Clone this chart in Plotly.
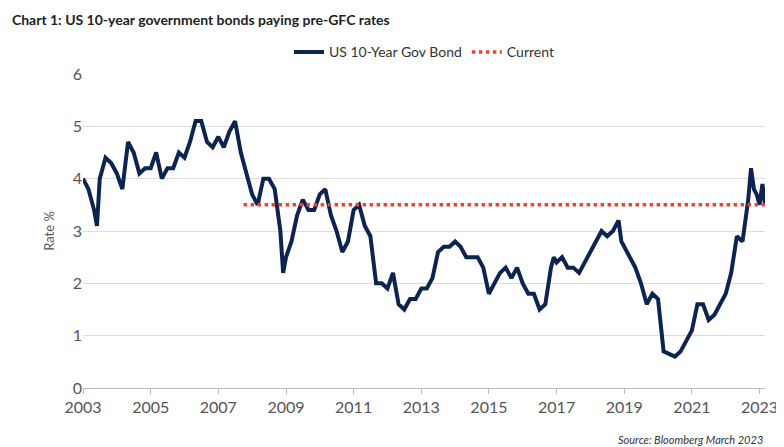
import plotly.graph_objects as go

dates = [
    "2003-01", "2003-03", "2003-05", "2003-06", "2003-07", "2003-09", "2003-11",
    "2004-01", "2004-03", "2004-05", "2004-07", "2004-09", "2004-11",
    "2005-01", "2005-03", "2005-05", "2005-07", "2005-09", "2005-11",
    "2006-01", "2006-03", "2006-05", "2006-07", "2006-09", "2006-11",
    "2007-01", "2007-03", "2007-05", "2007-07", "2007-09", "2007-11",
    "2008-01", "2008-03", "2008-05", "2008-07", "2008-09", "2008-11", "2008-12",
    "2009-01", "2009-03", "2009-05", "2009-07", "2009-09", "2009-11",
    "2010-01", "2010-03", "2010-05", "2010-07", "2010-09", "2010-11",
    "2011-01", "2011-03", "2011-05", "2011-07", "2011-09", "2011-11",
    "2012-01", "2012-03", "2012-05", "2012-07", "2012-09", "2012-11",
    "2013-01", "2013-03", "2013-05", "2013-07", "2013-09", "2013-11",
    "2014-01", "2014-03", "2014-05", "2014-07", "2014-09", "2014-11",
    "2015-01", "2015-03", "2015-05", "2015-07", "2015-09", "2015-11",
    "2016-01", "2016-03", "2016-05", "2016-07", "2016-09", "2016-11", "2016-12",
    "2017-01", "2017-03", "2017-05", "2017-07", "2017-09", "2017-11",
    "2018-01", "2018-03", "2018-05", "2018-07", "2018-09", "2018-11", "2018-12",
    "2019-01", "2019-03", "2019-05", "2019-07", "2019-09", "2019-11",
    "2020-01", "2020-03", "2020-05", "2020-07", "2020-09", "2020-11",
    "2021-01", "2021-03", "2021-05", "2021-07", "2021-09", "2021-11",
    "2022-01", "2022-03", "2022-05", "2022-07", "2022-09", "2022-10", "2022-11", "2022-12",
    "2023-01", "2023-02", "2023-03",
]
rates = [
    4.0, 3.8, 3.4, 3.1, 4.0, 4.4, 4.3,
    4.1, 3.8, 4.7, 4.5, 4.1, 4.2,
    4.2, 4.5, 4.0, 4.2, 4.2, 4.5,
    4.4, 4.7, 5.1, 5.1, 4.7, 4.6,
    4.8, 4.6, 4.9, 5.1, 4.5, 4.1,
    3.7, 3.5, 4.0, 4.0, 3.8, 3.0, 2.2,
    2.5, 2.8, 3.3, 3.6, 3.4, 3.4,
    3.7, 3.8, 3.3, 3.0, 2.6, 2.8,
    3.4, 3.5, 3.1, 2.9, 2.0, 2.0,
    1.9, 2.2, 1.6, 1.5, 1.7, 1.7,
    1.9, 1.9, 2.1, 2.6, 2.7, 2.7,
    2.8, 2.7, 2.5, 2.5, 2.5, 2.3,
    1.8, 2.0, 2.2, 2.3, 2.1, 2.3,
    2.0, 1.8, 1.8, 1.5, 1.6, 2.3, 2.5,
    2.4, 2.5, 2.3, 2.3, 2.2, 2.4,
    2.6, 2.8, 3.0, 2.9, 3.0, 3.2, 2.8,
    2.7, 2.5, 2.3, 2.0, 1.6, 1.8,
    1.7, 0.7, 0.65, 0.6, 0.7, 0.9,
    1.1, 1.6, 1.6, 1.3, 1.4, 1.6,
    1.8, 2.2, 2.9, 2.8, 3.6, 4.2, 3.8, 3.7,
    3.5, 3.9, 3.5,
]
current_dates = ["2007-10", "2023-03-01"]
current = [3.5, 3.5]

fig = go.Figure()
fig.add_trace(go.Scatter(x=dates, y=rates, mode="lines", name="US 10-Year Gov Bond",
                         line=dict(color="#0d2451", width=4)))
fig.add_trace(go.Scatter(x=current_dates, y=current, mode="lines", name="Current",
                         line=dict(color="#ef4136", width=3.5, dash="dot")))
fig.update_layout(
    width=784, height=447, plot_bgcolor="white", paper_bgcolor="white",
    font=dict(family="Lato", color="#555", size=16),
    title=dict(text="<b>Chart 1: US 10-year government bonds paying pre-GFC rates</b>",
               x=0.005, y=0.985, font=dict(size=14, color="#222")),
    legend=dict(orientation="h", x=0.5, xanchor="center", y=1.12, font=dict(size=14, color="#333")),
    margin=dict(l=75, r=27, t=66, b=67),
    annotations=[dict(text="<i>Source: Bloomberg March 2023</i>", xref="paper", yref="paper",
                      x=1.0, y=-0.19, xanchor="right", showarrow=False, font=dict(size=11, color="#333"))],
)
fig.update_xaxes(range=["2003-01-01", "2023-03-01"], dtick="M24", tick0="2003-01-01", tickformat="%Y",
                 showgrid=False, showline=True, linecolor="#bbb", ticks="outside", tickcolor="#bbb")
fig.update_yaxes(range=[0, 6], dtick=1, gridcolor="#ddd", title=dict(text="Rate %", font=dict(size=13)),
                 zeroline=False)
fig.write_html("out.html")
